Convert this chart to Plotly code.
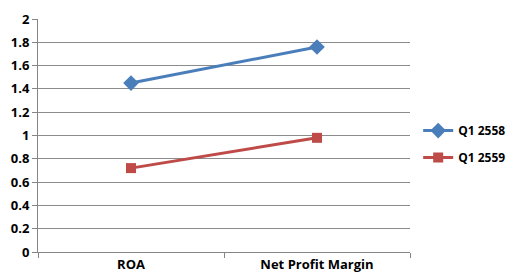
import plotly.graph_objects as go

categories = ["ROA", "Net Profit Margin"]
q1_2558 = [1.45, 1.76]
q1_2559 = [0.72, 0.98]
y_ticks = [0, 0.2, 0.4, 0.6, 0.8, 1, 1.2, 1.4, 1.6, 1.8, 2]
y_tick_text = ["0", "0.2", "0.4", "0.6", "0.8", "1", "1.2", "1.4", "1.6", "1.8", "2"]

font_family = "'Open Sans', sans-serif"
tick_font = dict(family=font_family, size=13, color="#000000", weight="bold")
legend_font = dict(family=font_family, size=12, color="#000000", weight="bold")

fig = go.Figure()
fig.add_trace(go.Scatter(
    x=categories, y=q1_2558, name="Q1 2558", mode="lines+markers",
    legendgroup="a",
    line=dict(color="#4A7EBB", width=3),
    marker=dict(symbol="diamond", size=12, color="#4A7EBB"),
))
fig.add_trace(go.Scatter(
    x=categories, y=q1_2559, name="Q1 2559", mode="lines+markers",
    legendgroup="b",
    line=dict(color="#BE4B48", width=3),
    marker=dict(symbol="square", size=10, color="#BE4B48"),
))

# page body has an 8px default margin, so the figure is 8px smaller and offset
fig.update_layout(
    width=507, height=270,
    margin=dict(l=30, r=105, t=11, b=26, autoexpand=False),
    paper_bgcolor="white", plot_bgcolor="white",
    font=dict(family=font_family, size=13, color="#000000"),
    showlegend=True,
    legend=dict(x=1.022, y=0.463, xanchor="left", yanchor="middle",
                font=legend_font, tracegroupgap=8, itemwidth=30),
    xaxis=dict(
        type="category", range=[-0.5, 1.5], automargin=False,
        showgrid=False, showline=True, linecolor="#868686", linewidth=1,
        ticks="outside", tickson="boundaries", ticklen=5, tickcolor="#868686",
        tickfont=tick_font,
    ),
    yaxis=dict(
        range=[0, 2], tickvals=y_ticks, ticktext=y_tick_text, automargin=False,
        showgrid=True, gridcolor="#8C8C8C", gridwidth=1,
        showline=True, linecolor="#868686", linewidth=1,
        ticks="outside", ticklen=5, tickcolor="#868686",
        tickfont=tick_font,
        zeroline=False,
    ),
)

fig.write_html("out.html")
